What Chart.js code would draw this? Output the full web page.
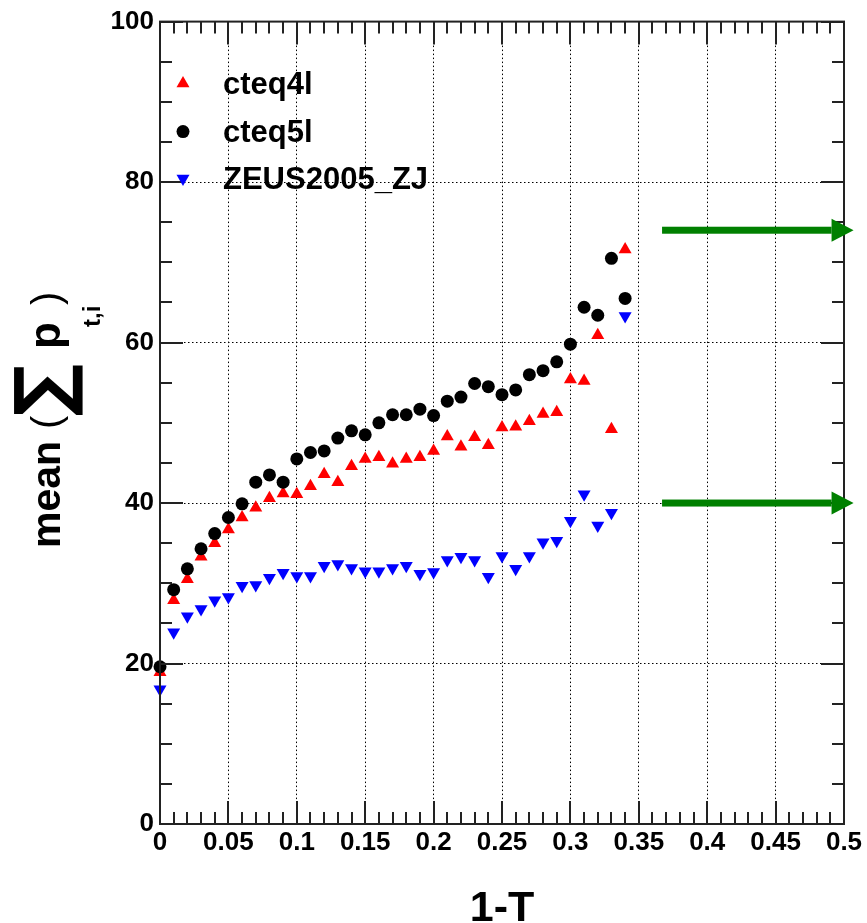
<!DOCTYPE html>
<html>
<head>
<meta charset="utf-8">
<script src="https://cdn.jsdelivr.net/npm/chart.js@4.4.1/dist/chart.umd.min.js"></script>
<style>
  html, body { margin: 0; padding: 0; background: #fff; }
  #wrap { width: 867px; height: 923px; }
</style>
</head>
<body>
<div id="wrap"><canvas id="Chart"></canvas></div>
<script>
// 1-T bins
const xValues = [0, 0.01, 0.02, 0.03, 0.04, 0.05, 0.06, 0.07, 0.08, 0.09,
                 0.10, 0.11, 0.12, 0.13, 0.14, 0.15, 0.16, 0.17, 0.18, 0.19,
                 0.20, 0.21, 0.22, 0.23, 0.24, 0.25, 0.26, 0.27, 0.28, 0.29,
                 0.30, 0.31, 0.32, 0.33, 0.34];

const cteq4l = [18.9, 27.9, 30.5, 33.3, 35.0, 36.7, 38.2, 39.4, 40.6, 41.2,
                41.1, 42.1, 43.6, 42.6, 44.6, 45.5, 45.7, 44.9, 45.5, 45.7,
                46.5, 48.3, 47.0, 48.2, 47.2, 49.4, 49.5, 50.2, 51.1, 51.3,
                55.4, 55.2, 60.9, 49.2, 71.6];

const cteq5l = [19.6, 29.2, 31.8, 34.3, 36.2, 38.2, 39.9, 42.6, 43.5, 42.6,
                45.5, 46.3, 46.5, 48.1, 49.0, 48.5, 50.0, 51.0, 51.0, 51.7,
                50.9, 52.7, 53.2, 54.9, 54.5, 53.5, 54.1, 56.0, 56.5, 57.6,
                59.8, 64.4, 63.4, 70.5, 65.5];

const zeus2005 = [16.8, 23.9, 25.9, 26.8, 27.9, 28.3, 29.7, 29.8, 30.7, 31.3,
                  30.9, 30.9, 32.2, 32.4, 31.9, 31.5, 31.5, 31.9, 32.2, 31.2,
                  31.4, 32.9, 33.3, 32.9, 30.8, 33.4, 31.8, 33.4, 35.1, 35.3,
                  37.8, 41.1, 37.2, 38.8, 63.3];

const xTickValues = [0, 0.05, 0.1, 0.15, 0.2, 0.25, 0.3, 0.35, 0.4, 0.45, 0.5];
const xTickLabels = ['0', '0.05', '0.1', '0.15', '0.2', '0.25', '0.3', '0.35', '0.4', '0.45', '0.5'];
const yTickValues = [0, 20, 40, 60, 80, 100];
const yTickLabels = ['0', '20', '40', '60', '80', '100'];

// green arrows (in data units)
const arrowLevels = [74, 40];
const arrowFrom = 0.367;
const arrowTo = 0.507;

const FONT = '"Liberation Sans", Arial, Helvetica, sans-serif';

function toPoints(ys) {
  return ys.map((y, i) => ({x: xValues[i], y: y}));
}

// ROOT style frame with ticks on all four sides
const framePlugin = {
  id: 'frame',
  afterDatasetsDraw(chart) {
    const ctx = chart.ctx;
    const a = chart.chartArea;
    const xs = chart.scales.x, ys = chart.scales.y;
    ctx.save();
    ctx.strokeStyle = '#222';
    ctx.lineWidth = 2;
    ctx.strokeRect(a.left, a.top, a.right - a.left, a.bottom - a.top);
    ctx.beginPath();
    for (let k = 0; k <= 50; k++) {
      const px = Math.round(xs.getPixelForValue(k / 100));
      const len = (k % 5 === 0) ? 23 : 12;
      ctx.moveTo(px, a.bottom); ctx.lineTo(px, a.bottom - len);
      ctx.moveTo(px, a.top); ctx.lineTo(px, a.top + len);
    }
    for (let k = 0; k <= 20; k++) {
      const py = Math.round(ys.getPixelForValue(k * 5));
      const len = (k % 4 === 0) ? 23 : 12;
      ctx.moveTo(a.left, py); ctx.lineTo(a.left + len, py);
      ctx.moveTo(a.right, py); ctx.lineTo(a.right - len, py);
    }
    ctx.stroke();
    ctx.restore();
  }
};

const legendPlugin = {
  id: 'rootLegend',
  afterDraw(chart) {
    const ctx = chart.ctx;
    const a = chart.chartArea;
    const rows = [62, 110, 157];
    ctx.save();
    chart.data.datasets.forEach((ds, i) => {
      const y = a.top + rows[i];
      ctx.fillStyle = ds.backgroundColor;
      ctx.strokeStyle = ds.backgroundColor;
      Chart.helpers.drawPoint(ctx, {
        pointStyle: ds.pointStyle,
        radius: ds.pointRadius,
        rotation: ds.pointRotation || 0,
        borderWidth: 0
      }, a.left + 23, y);
      ctx.fillStyle = '#000';
      ctx.font = 'bold 31px ' + FONT;
      ctx.textAlign = 'left';
      ctx.textBaseline = 'alphabetic';
      ctx.fillText(ds.label, a.left + 63, y + 10);
    });
    ctx.restore();
  }
};

const arrowPlugin = {
  id: 'arrows',
  afterDraw(chart) {
    const ctx = chart.ctx;
    const xs = chart.scales.x, ys = chart.scales.y;
    ctx.save();
    ctx.fillStyle = '#008000';
    arrowLevels.forEach(v => {
      const y = ys.getPixelForValue(v);
      const x0 = xs.getPixelForValue(arrowFrom);
      const x1 = xs.getPixelForValue(arrowTo);
      const head = 22;
      ctx.fillRect(x0, y - 3.5, x1 - head - x0, 7);
      ctx.beginPath();
      ctx.moveTo(x1 - head, y - 11.5);
      ctx.lineTo(x1, y);
      ctx.lineTo(x1 - head, y + 11.5);
      ctx.closePath();
      ctx.fill();
    });
    ctx.restore();
  }
};

const titlePlugin = {
  id: 'titles',
  afterDraw(chart) {
    const ctx = chart.ctx;
    const a = chart.chartArea;
    ctx.save();
    ctx.fillStyle = '#000';
    // x title
    ctx.font = 'bold 43px ' + FONT;
    ctx.textAlign = 'center';
    ctx.textBaseline = 'alphabetic';
    ctx.fillText('1-T', (a.left + a.right) / 2, 921);

    // y title: mean ( sum p_{t,i} )
    ctx.translate(60, 548);
    ctx.rotate(-Math.PI / 2);
    ctx.textAlign = 'left';
    ctx.font = 'bold 41px ' + FONT;
    ctx.fillText('mean', 0, 0);
    ctx.font = '40px ' + FONT;
    ctx.fillText('(', 119, 0);
    ctx.font = 'bold 60px "DejaVu Sans", sans-serif';
    const m = ctx.measureText('\u2211');
    const w = m.actualBoundingBoxLeft + m.actualBoundingBoxRight;
    const h = m.actualBoundingBoxAscent + m.actualBoundingBoxDescent;
    ctx.save();
    ctx.translate(133, -47);
    ctx.scale(50 / w, 70 / h);
    ctx.fillText('\u2211', m.actualBoundingBoxLeft, m.actualBoundingBoxAscent);
    ctx.restore();
    ctx.font = 'bold 44px ' + FONT;
    ctx.fillText('p', 199, 0);
    ctx.font = 'bold 24px ' + FONT;
    ctx.fillText('t,i', 221, 40);
    ctx.font = '40px ' + FONT;
    ctx.fillText(')', 243, 0);
    ctx.restore();
  }
};

const gridOpts = {
  color: '#000',
  lineWidth: 1,
  drawTicks: false
};

const ctx = document.getElementById('Chart').getContext('2d');
const myChart = new Chart(ctx, {
  type: 'scatter',
  data: {
    datasets: [
      {
        label: 'cteq4l',
        data: toPoints(cteq4l),
        backgroundColor: '#ff0000',
        pointStyle: 'triangle',
        pointRadius: 7.5,
        pointBorderWidth: 0,
        order: 1,
        clip: false
      },
      {
        label: 'cteq5l',
        data: toPoints(cteq5l),
        backgroundColor: '#000000',
        pointStyle: 'circle',
        pointRadius: 6.5,
        pointBorderWidth: 0,
        order: 0,
        clip: false
      },
      {
        label: 'ZEUS2005_ZJ',
        data: toPoints(zeus2005),
        backgroundColor: '#0000ff',
        pointStyle: 'triangle',
        pointRotation: 180,
        pointRadius: 7.5,
        pointBorderWidth: 0,
        order: 2,
        clip: false
      }
    ]
  },
  options: {
    responsive: true,
    maintainAspectRatio: false,
    animation: false,
    devicePixelRatio: 1,
    layout: {padding: {top: 21, right: 23, left: 0, bottom: 0}},
    plugins: {
      legend: {display: false},
      tooltip: {enabled: false}
    },
    scales: {
      x: {
        type: 'linear',
        min: 0,
        max: 0.5,
        afterFit(scale) { scale.height = 99; },
        afterBuildTicks(scale) { scale.ticks = xTickValues.map(v => ({value: v})); },
        border: {display: false, dash: [1.5, 2.5]},
        grid: gridOpts,
        ticks: {
          autoSkip: false,
          maxRotation: 0,
          padding: 3,
          color: '#000',
          font: {family: FONT, size: 26, weight: 'bold'},
          callback: (v, i) => xTickLabels[i]
        }
      },
      y: {
        type: 'linear',
        min: 0,
        max: 100,
        afterFit(scale) { scale.width = 160; },
        afterBuildTicks(scale) { scale.ticks = yTickValues.map(v => ({value: v})); },
        border: {display: false, dash: [1.5, 2.5]},
        grid: gridOpts,
        ticks: {
          autoSkip: false,
          padding: 6,
          color: '#000',
          font: {family: FONT, size: 26, weight: 'bold'},
          callback: (v, i) => yTickLabels[i]
        }
      }
    }
  },
  plugins: [framePlugin, legendPlugin, arrowPlugin, titlePlugin]
});
</script>
</body>
</html>
